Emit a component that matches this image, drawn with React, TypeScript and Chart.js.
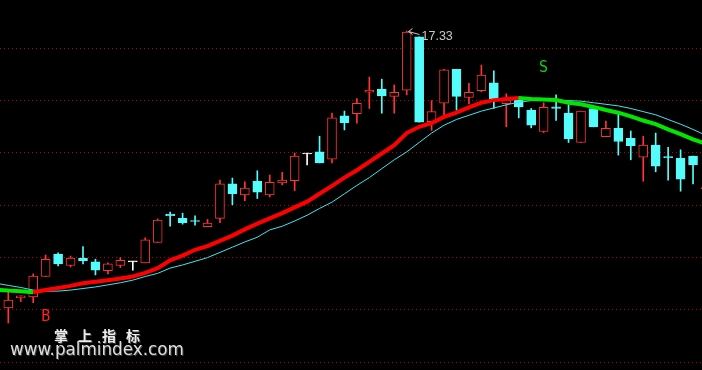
import React, { useEffect, useRef } from "react";
import { Chart, registerables } from "chart.js";

Chart.register(...registerables);

// ---- data (one entry per trading day) ----
const opens = [12.04, 12.23, 12.25, 12.64, 13.07, 12.85, 12.99, 12.92, 12.75, 12.85, 12.92, 12.90, 13.29, 13.83, 13.75, 13.71, 13.59, 13.75, 14.41, 14.20, 14.46, 14.20, 14.43, 14.47, 14.98, 15.02, 14.88, 15.71, 15.75, 16.16, 16.22, 16.08, 16.20, 17.22, 15.60, 15.95, 16.60, 16.06, 16.19, 16.34, 15.94, 16.03, 15.82, 15.41, 15.88, 15.76, 15.20, 15.85, 15.31, 15.47, 15.28, 14.92, 15.15, 14.93, 14.90, 14.94, 14.32];
const highs = [12.38, 12.27, 12.69, 13.05, 13.09, 13.03, 13.21, 12.97, 12.90, 13.00, 12.93, 13.38, 13.74, 13.87, 13.85, 13.80, 13.73, 14.48, 14.52, 14.45, 14.66, 14.58, 14.63, 15.00, 15.00, 15.32, 15.76, 15.80, 16.04, 16.45, 16.41, 16.30, 17.33, 17.22, 16.00, 16.60, 16.60, 16.33, 16.68, 16.57, 16.13, 16.07, 15.85, 15.96, 16.11, 15.92, 15.80, 15.85, 15.61, 15.76, 15.42, 15.32, 15.38, 15.11, 15.06, 14.94, 14.34];
const lows = [11.75, 12.16, 12.14, 12.64, 12.84, 12.82, 12.88, 12.67, 12.69, 12.81, 12.76, 12.90, 13.29, 13.60, 13.64, 13.62, 13.59, 13.67, 14.01, 14.09, 14.13, 14.16, 14.39, 14.28, 14.77, 14.81, 14.81, 15.44, 15.57, 15.85, 15.76, 15.76, 16.11, 15.59, 15.43, 15.69, 15.82, 15.94, 16.17, 15.85, 15.50, 15.67, 15.48, 15.39, 15.62, 15.20, 15.20, 15.50, 15.31, 14.96, 14.87, 14.46, 14.64, 14.48, 14.27, 14.41, 14.32];
const closes = [12.19, 12.27, 12.65, 12.97, 12.88, 12.99, 12.94, 12.76, 12.88, 12.95, 12.92, 13.34, 13.72, 13.80, 13.67, 13.69, 13.66, 14.41, 14.22, 14.33, 14.25, 14.44, 14.48, 14.94, 14.98, 14.81, 15.67, 15.58, 15.95, 16.20, 16.09, 16.16, 17.31, 15.59, 15.79, 16.59, 16.08, 16.16, 16.49, 16.03, 16.01, 15.88, 15.53, 15.87, 15.85, 15.27, 15.80, 15.50, 15.47, 15.22, 15.14, 15.15, 14.75, 14.91, 14.50, 14.77, 14.34];

// moving-average lines, first value belongs to day index -1
const lineStartIndex = -1;
const trendLine = [12.39, 12.37, 12.36, 12.34, 12.38, 12.42, 12.46, 12.51, 12.54, 12.57, 12.60, 12.64, 12.71, 12.80, 12.95, 13.04, 13.15, 13.22, 13.32, 13.42, 13.54, 13.65, 13.75, 13.85, 13.96, 14.07, 14.22, 14.37, 14.53, 14.67, 14.83, 14.99, 15.15, 15.38, 15.50, 15.57, 15.69, 15.77, 15.87, 15.96, 16.01, 16.03, 16.05, 16.03, 16.02, 16.01, 15.96, 15.93, 15.88, 15.82, 15.77, 15.70, 15.62, 15.55, 15.45, 15.36, 15.26, 15.18];
const thinLine = [12.51, 12.47, 12.43, 12.38, 12.36, 12.36, 12.38, 12.41, 12.44, 12.48, 12.52, 12.57, 12.64, 12.70, 12.80, 12.86, 12.93, 13.00, 13.10, 13.20, 13.30, 13.39, 13.53, 13.60, 13.70, 13.81, 13.94, 14.06, 14.22, 14.38, 14.53, 14.70, 14.87, 15.02, 15.20, 15.38, 15.53, 15.64, 15.72, 15.80, 15.86, 15.92, 15.97, 16.00, 16.01, 16.01, 16.00, 15.99, 15.96, 15.93, 15.90, 15.85, 15.79, 15.73, 15.64, 15.55, 15.45, 15.34];

const gridValues = [11, 12, 13, 14, 15, 16, 17];

const signalIndex = [3, 43];
const signalText = ["B", "S"];
const signalPrice = [11.86, 16.62];
const signalColor = ["#ff2020", "#10d010"];

const watermarkTitle = ["掌", "上", "指", "标"];
const watermarkUrl = "www.palmindex.com";

// ---- colours ----
const UP = "#ff3434";
const DOWN = "#54fcfc";
const FLAT = "#ffffff";

function candleColor(i: number) {
  if (closes[i] > opens[i]) return UP;
  if (closes[i] < opens[i]) return DOWN;
  return FLAT;
}

const overlayPlugin = {
  id: "overlay",
  afterDatasetsDraw(chart: any) {
    const { ctx, scales } = chart;
    const xs = scales.x;
    const ys = scales.y;
    ctx.save();
    // buy/sell signals
    ctx.font = "15px 'DejaVu Sans Mono'";
    ctx.textAlign = "center";
    ctx.textBaseline = "middle";
    signalIndex.forEach((idx, k) => {
      ctx.fillStyle = signalColor[k];
      ctx.fillText(signalText[k], xs.getPixelForValue(idx), ys.getPixelForValue(signalPrice[k]));
    });
    // max label
    let mi = 0;
    highs.forEach((h, i) => { if (h > highs[mi]) mi = i; });
    const px = Math.round(xs.getPixelForValue(mi)) + 1.5;
    const py = Math.round(ys.getPixelForValue(highs[mi])) + 0.5;
    ctx.strokeStyle = "#c8c8c8";
    ctx.lineWidth = 1;
    ctx.beginPath();
    ctx.moveTo(px + 4, py - 3);
    ctx.lineTo(px, py);
    ctx.lineTo(px + 4, py + 3);
    ctx.moveTo(px, py);
    ctx.lineTo(px + 11, py + 3);
    ctx.stroke();
    ctx.fillStyle = "#c8c8c8";
    ctx.font = "12.5px 'Liberation Sans', Arial, sans-serif";
    ctx.textAlign = "left";
    ctx.fillText(highs[mi].toFixed(2), px + 13, py + 5);
    // watermark
    ctx.font = "bold 14px 'Noto Sans CJK SC'";
    ctx.textAlign = "left";
    ctx.textBaseline = "middle";
    watermarkTitle.forEach((ch, k) => {
      const tx = 54 + k * 24;
      ctx.fillStyle = "#404040";
      ctx.fillText(ch, tx + 1, 337);
      ctx.fillStyle = "#ececec";
      ctx.fillText(ch, tx, 336);
    });
    ctx.font = "17px 'DejaVu Sans'";
    const w = ctx.measureText(watermarkUrl).width;
    const size = 17 * 174 / w;
    ctx.font = `${size}px 'DejaVu Sans'`;
    ctx.fillStyle = "#404040";
    ctx.fillText(watermarkUrl, 11, 352);
    ctx.fillStyle = "#dedede";
    ctx.fillText(watermarkUrl, 10, 351);
    ctx.restore();
  },
};

export default function App() {
  const ref = useRef<HTMLCanvasElement | null>(null);

  useEffect(() => {
    document.body.style.margin = "0";
    document.body.style.background = "#000";
    document.body.style.overflow = "hidden";
    const canvas = ref.current!;
    const days = opens.map((_, i) => i);
    const bodies = days.map((i) => ({ x: i, y: [opens[i], closes[i]] }));
    const wicks = days.map((i) => ({ x: i, y: [lows[i], highs[i]] }));
    const colors = days.map(candleColor);
    const bodyFill = days.map((i) => (colors[i] === UP ? "#000000" : colors[i]));
    const trendPts = trendLine.map((v, k) => ({ x: k + lineStartIndex, y: v }));
    const thinPts = thinLine.map((v, k) => ({ x: k + lineStartIndex, y: v }));

    const chart = new Chart(canvas, {
      type: "bar",
      data: {
        datasets: [
          {
            type: "line",
            data: trendPts as any,
            borderWidth: 4,
            pointRadius: 0,
            borderColor: "#ff0000",
            segment: {
              borderColor: (c: any) => (c.p1.parsed.y >= c.p0.parsed.y ? "#ff0000" : "#00e600"),
            },
            order: 0,
          },
          {
            type: "line",
            data: thinPts as any,
            borderWidth: 1,
            pointRadius: 0,
            borderColor: "#3ee6ee",
            order: 1,
          },
          {
            type: "bar",
            data: bodies as any,
            backgroundColor: bodyFill,
            borderColor: colors,
            borderWidth: 1,
            borderSkipped: false,
            barThickness: 9,
            minBarLength: 1,
            grouped: false,
            order: 2,
          },
          {
            type: "bar",
            data: wicks as any,
            backgroundColor: colors,
            borderWidth: 0,
            barThickness: 1,
            minBarLength: 1,
            grouped: false,
            order: 3,
          },
        ],
      },
      options: {
        responsive: false,
        devicePixelRatio: 1,
        animation: false,
        layout: { padding: 0 },
        plugins: { legend: { display: false }, tooltip: { enabled: false } },
        scales: {
          x: {
            type: "linear",
            min: -0.667,
            max: 55.72,
            offset: false,
            display: false,
          },
          y: {
            type: "linear",
            min: 10.853,
            max: 17.923,
            ticks: { display: false },
            border: { display: false, dash: [1, 3] },
            grid: { color: "#b80000", drawTicks: false, tickLength: 0, lineWidth: 1 },
            afterBuildTicks: (scale: any) => {
              scale.ticks = gridValues.map((v) => ({ value: v }));
            },
          },
        },
      },
      plugins: [overlayPlugin],
    });
    return () => chart.destroy();
  }, []);

  return (
    <canvas
      ref={ref}
      width={702}
      height={370}
      style={{ display: "block", background: "#000", width: 702, height: 370 }}
    />
  );
}
